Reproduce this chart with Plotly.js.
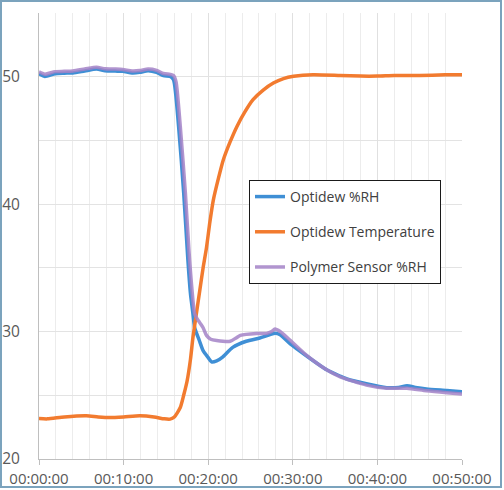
<!DOCTYPE html>
<html>
<head>
<meta charset="utf-8">
<script src="https://cdn.plot.ly/plotly-3.0.1.min.js"></script>
<style>
html,body{margin:0;padding:0;background:#fff;}
#wrap{position:relative;width:504px;height:490px;}
#chart{width:504px;height:490px;}
#frame{position:absolute;left:0;top:0;width:502px;height:488px;box-sizing:border-box;border:2px solid #7ba3bd;pointer-events:none;}
</style>
</head>
<body>
<div id="wrap"><div id="chart"></div><div id="frame"></div></div>
<script>
// Time in minutes
const rhTime = [0, 0.7, 1.9, 3, 4, 5.4, 6.8, 7.8, 9, 9.9, 11, 11.9, 12.9, 13.9, 14.7, 15.5, 15.9, 16.5, 17.1, 17.6, 17.9, 18.2, 18.4, 18.95, 19.4, 20, 20.4, 21, 21.7, 22.9, 24.5, 26.1, 27.9, 28.5, 29.7, 31.6, 34, 35.6, 36.4, 38.7, 41.1, 42.5, 43.5, 44.5, 45.8, 48.2, 50];
const rhValues = [50.24, 50.02, 50.24, 50.28, 50.3, 50.45, 50.6, 50.47, 50.44, 50.42, 50.3, 50.34, 50.47, 50.34, 50.08, 50.03, 49.77, 46.1, 40.9, 35.6, 33.0, 31.4, 30.3, 29.3, 28.5, 27.95, 27.62, 27.7, 28.0, 28.76, 29.24, 29.5, 29.87, 29.75, 29.03, 28.1, 27.0, 26.5, 26.28, 25.9, 25.6, 25.62, 25.75, 25.62, 25.5, 25.38, 25.28];

const tempTime = [0, 1, 3, 5.6, 7, 8.4, 10, 11.9, 13.6, 14.8, 15.5, 16, 16.7, 17.1, 17.5, 17.9, 18.2, 18.6, 19.0, 19.4, 19.8, 20.2, 20.6, 21.2, 21.8, 22.6, 23.4, 24.3, 25.3, 26.5, 27.7, 28.9, 30.1, 32.4, 35.6, 38, 40, 42, 45, 48, 50];
const tempValues = [23.17, 23.15, 23.3, 23.39, 23.3, 23.25, 23.3, 23.39, 23.3, 23.15, 23.13, 23.3, 24.04, 25.0, 26.1, 27.8, 29.55, 31.4, 33.2, 35.0, 36.6, 38.6, 40.3, 42.0, 43.5, 44.9, 46.1, 47.2, 48.2, 48.95, 49.5, 49.85, 50.03, 50.16, 50.1, 50.05, 50.05, 50.1, 50.1, 50.15, 50.15];

const polyTime = [0, 0.7, 1.9, 3, 4, 5.4, 6.8, 7.8, 9, 9.9, 11, 11.9, 12.9, 13.9, 14.7, 15.5, 15.9, 16.2, 16.7, 17.3, 17.8, 18.4, 18.7, 19.0, 19.4, 19.8, 20.3, 21, 22.6, 23.3, 23.8, 25.7, 26.9, 27.5, 27.9, 28.5, 29.3, 31.6, 34, 35.6, 38.7, 41.1, 43.5, 45.8, 48.2, 50];
const polyValues = [50.38, 50.2, 50.4, 50.42, 50.45, 50.6, 50.75, 50.62, 50.6, 50.57, 50.45, 50.48, 50.6, 50.5, 50.25, 50.18, 50.1, 49.6, 46.1, 40.9, 35.6, 31.4, 31.0, 30.7, 30.3, 29.7, 29.4, 29.3, 29.24, 29.5, 29.7, 29.85, 29.85, 30.0, 30.2, 30.0, 29.55, 28.15, 27.0, 26.45, 25.8, 25.55, 25.55, 25.35, 25.2, 25.1];

const seriesNames = ['Optidew %RH', 'Optidew Temperature', 'Polymer Sensor %RH'];
const seriesColors = ['#3f8fd5', '#f27b2f', '#a383c7'];

const xTickVals = [0, 10, 20, 30, 40, 50];
const xTickText = ['00:00:00', '00:10:00', '00:20:00', '00:30:00', '00:40:00', '00:50:00'];
const yTickVals = [20, 30, 40, 50];

const traces = [
  {x: rhTime, y: rhValues, name: seriesNames[0], legendgroup: 'a', line: {color: seriesColors[0], width: 3.5}},
  {x: tempTime, y: tempValues, name: seriesNames[1], legendgroup: 'b', line: {color: seriesColors[1], width: 3.5}},
  {x: polyTime, y: polyValues, name: seriesNames[2], legendgroup: 'c', opacity: 0.85, line: {color: seriesColors[2], width: 3.5}}
].map(t => Object.assign({type: 'scatter', mode: 'lines'}, t));
traces.forEach(t => { t.line.shape = 'spline'; t.line.smoothing = 0.6; });

const layout = {
  width: 504, height: 490,
  margin: {l: 39, r: 42, t: 13, b: 31},
  paper_bgcolor: '#ffffff', plot_bgcolor: '#ffffff',
  font: {family: 'Open Sans, sans-serif', color: '#595959'},
  showlegend: true,
  legend: {
    x: 0.4965, y: 0.6256, xanchor: 'left', yanchor: 'top',
    bgcolor: '#ffffff', bordercolor: '#1a1a1a', borderwidth: 1,
    font: {size: 14, color: '#404040', family: 'Open Sans, sans-serif'},
    tracegroupgap: 14, traceorder: 'grouped'
  },
  xaxis: {
    range: [0, 50], tickvals: xTickVals, ticktext: xTickText,
    showline: true, linecolor: '#bfbfbf', linewidth: 1,
    ticks: 'outside', ticklen: 5, tickcolor: '#bfbfbf', ticklabelstandoff: 1,
    showgrid: true, gridcolor: '#e0e0e0', gridwidth: 1,
    minor: {dtick: 2, showgrid: true, gridcolor: '#ececec', gridwidth: 1, ticks: ''},
    tickfont: {size: 15, color: '#595959'},
    zeroline: false, fixedrange: true
  },
  yaxis: {
    range: [20, 55], tickvals: yTickVals,
    showline: true, linecolor: '#bfbfbf', linewidth: 1,
    ticks: '', ticklabelstandoff: 15,
    showgrid: true, gridcolor: '#e3e3e3', gridwidth: 1,
    minor: {dtick: 5, showgrid: true, gridcolor: '#e3e3e3', gridwidth: 1, ticks: ''},
    tickfont: {size: 15.5, color: '#595959'},
    zeroline: false, fixedrange: true
  }
};

Plotly.newPlot('chart', traces, layout, {displayModeBar: false, staticPlot: true});
</script>
</body>
</html>
